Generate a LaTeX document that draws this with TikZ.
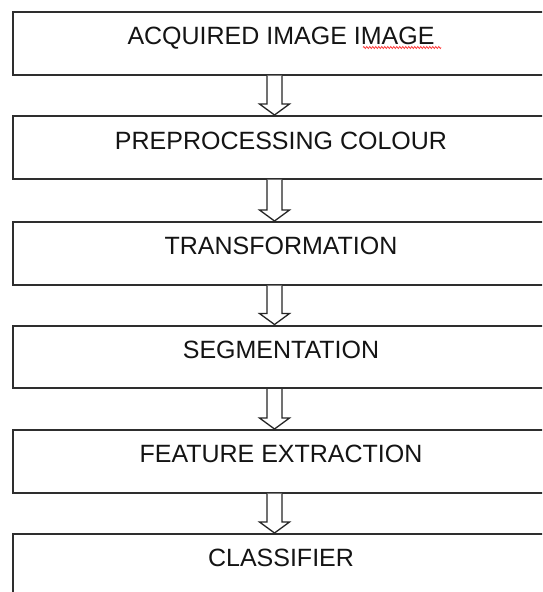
\documentclass[tikz,border=0pt]{standalone}
\usepackage{fontspec}
\setmainfont{Liberation Sans}
\usetikzlibrary{calc,decorations.pathmorphing}
\definecolor{boxline}{HTML}{2E2E2E}
\begin{document}
\begin{tikzpicture}[x=1pt,y=1pt,
  stepbox/.style={draw=boxline,line width=2pt,rectangle,minimum width=560pt,minimum height=62.5pt,anchor=north west,inner sep=0pt},
  steptext/.style={anchor=base,inner sep=0pt,font=\fontsize{25}{28}\selectfont,text=black!92},
  hollowarrow/.style={draw=black!85,line width=1.3pt,fill=white,line join=miter}]
\clip (0,0) rectangle (542,-592);
\fill[white] (0,0) rectangle (542,-592);
% boxes
\node[stepbox] (b1) at (12,-11) {};
\node[stepbox] (b2) at (12,-115) {};
\node[stepbox] (b3) at (12,-221) {};
\node[stepbox] (b4) at (12,-324.5) {};
\node[stepbox] (b5) at (12,-429) {};
\node[stepbox,minimum height=100pt] (b6) at (12,-533) {};
% texts
\node[steptext] (t1) at (281,-44.5) {ACQUIRED IMAGE IMAGE};
\node[steptext] (t2) at (281,-149) {PREPROCESSING COLOUR};
\node[steptext] (t3) at (281,-254.5) {TRANSFORMATION};
\node[steptext] (t4) at (281,-358) {SEGMENTATION};
\node[steptext] (t5) at (281,-462.5) {FEATURE EXTRACTION};
\node[steptext] (t6) at (281,-566.5) {CLASSIFIER};
% spell-check underline
\coordinate (w1) at (363,-47.5);
\coordinate (w2) at (441,-47.5);
\draw[red!85,line width=0.7pt,decorate,decoration={zigzag,amplitude=1pt,segment length=3pt}] (w1) -- (w2);
% hollow block arrows
\coordinate (ax) at (274.5,0);
\foreach \i/\j in {1/2,2/3,3/4,4/5,5/6}{
  \draw[hollowarrow]
    ($(b\i.south -| ax)+(-7.5,0)$) --
    ($(b\j.north -| ax)+(-7.5,11)$) --
    ($(b\j.north -| ax)+(-15,11)$) --
    (b\j.north -| ax) --
    ($(b\j.north -| ax)+(15,11)$) --
    ($(b\j.north -| ax)+(7.5,11)$) --
    ($(b\i.south -| ax)+(7.5,0)$);
}
\end{tikzpicture}
\end{document}
